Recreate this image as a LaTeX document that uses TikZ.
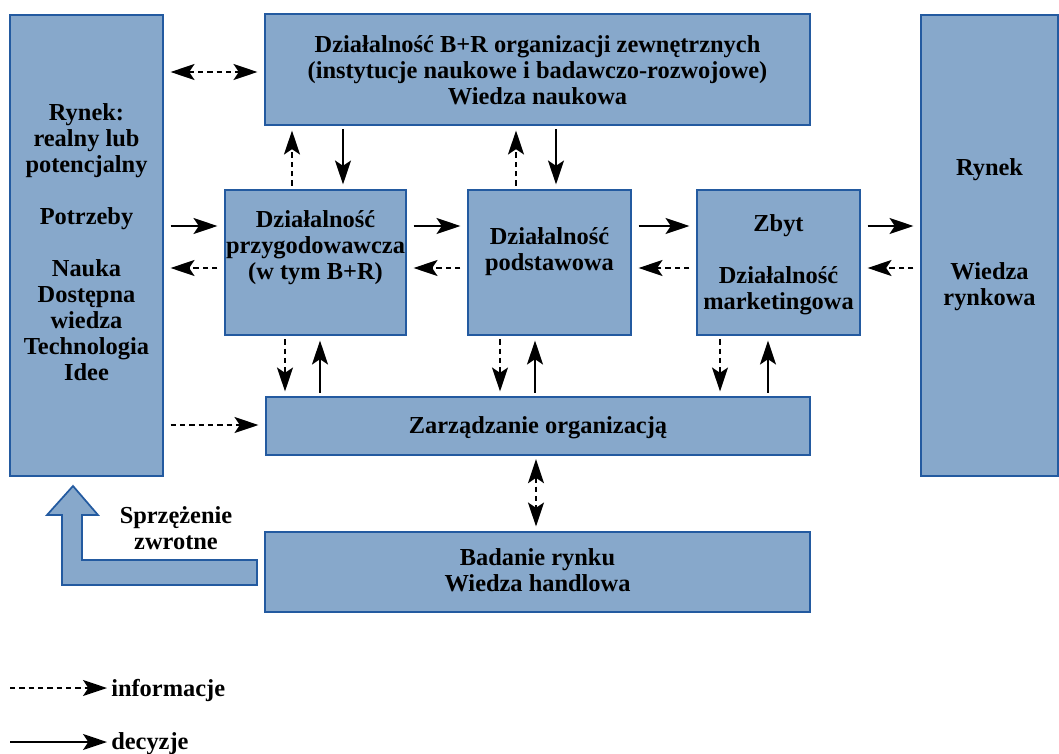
\documentclass[tikz,border=0pt]{standalone}
\usepackage{fontspec}
\setmainfont{Liberation Serif}
\usetikzlibrary{arrows.meta}
\definecolor{boxfill}{RGB}{135,168,203}
\definecolor{boxline}{RGB}{35,90,160}
\tikzset{
  box/.style={draw=boxline, fill=boxfill, line width=1.3pt, inner sep=0pt},
  txt/.style={font=\bfseries\fontsize{18.3}{19.5}\selectfont, align=center, inner sep=0pt},
  Tp/.tip={Stealth[length=18pt,width=12pt,inset=4pt]},
  dec/.style={line width=1.1pt, -Tp, shorten <=5pt, shorten >=5pt},
  decv/.style={line width=1.1pt, -Tp, shorten <=2.5pt, shorten >=3.5pt},
  inf/.style={dec, dash pattern=on 4pt off 3pt},
  infv/.style={decv, dash pattern=on 4pt off 3pt},
  both/.style={Tp-Tp},
}
\begin{document}
\begin{tikzpicture}[x=0.75pt,y=-0.75pt]
\useasboundingbox (0,0) rectangle (1059,753);
% boxes
\node[box, minimum width=114.75pt, minimum height=345.75pt] (L) at (86.5,245.5) {};
\node[box, minimum width=408.75pt, minimum height=83.25pt] (T) at (537.5,69.5) {};
\node[box, minimum width=102.75pt, minimum height=345.75pt] (R) at (989.5,245.5) {};
\node[box, minimum width=135.75pt, minimum height=108.75pt] (P) at (315.5,262.5) {};
\node[box, minimum width=122.25pt, minimum height=108.75pt] (D) at (549.5,262.5) {};
\node[box, minimum width=122.25pt, minimum height=108.75pt] (Z) at (778.5,262.5) {};
\node[box, minimum width=408pt, minimum height=43.5pt] (M) at (538,426) {};
\node[box, minimum width=408.75pt, minimum height=60pt] (B) at (537.5,572) {};
% texts
\node[txt] (Lt) at (86.5,242) {Rynek:\\realny lub\\potencjalny\\[19.5pt]Potrzeby\\[19.5pt]Nauka\\Dostępna\\wiedza\\Technologia\\Idee};
\node[txt] (Tt) at (537.5,70) {Działalność B+R organizacji zewnętrznych\\(instytucje naukowe i badawczo-rozwojowe)\\Wiedza naukowa};
\node[txt] (Rt) at (989.5,235) {Rynek\\[58.5pt]Wiedza\\rynkowa};
\node[txt] (Pt) at (315.5,248) {Działalność\\przygodowawcza\\(w tym B+R)};
\node[txt] (Dt) at (549.5,251.5) {Działalność\\podstawowa};
\node[txt] (Zt) at (778.5,265) {Zbyt\\[19.5pt]Działalność\\marketingowa};
\node[txt] (Mt) at (538,428) {Zarządzanie organizacją};
\node[txt] (Bt) at (537.5,570.5) {Badanie rynku\\Wiedza handlowa};
\node[txt] (Ft) at (176,528) {Sprzężenie\\zwrotne};
% level coordinates
\coordinate (yT) at (0,72);
\coordinate (yA) at (0,226);
\coordinate (yB) at (0,268);
\coordinate (yM) at (0,425);
\coordinate (x1) at (292,0);
\coordinate (x2) at (343,0);
\coordinate (x3) at (516,0);
\coordinate (x4) at (556,0);
\coordinate (x5) at (285,0);
\coordinate (x6) at (320,0);
\coordinate (x7) at (500,0);
\coordinate (x8) at (535,0);
\coordinate (x9) at (720,0);
\coordinate (x10) at (768,0);
\coordinate (x11) at (536,0);
% horizontal connectors
\draw[inf, both] (L.east |- yT) -- (T.west |- yT);
\draw[dec] (L.east |- yA) -- (P.west |- yA);
\draw[inf] (P.west |- yB) -- (L.east |- yB);
\draw[dec] (P.east |- yA) -- (D.west |- yA);
\draw[inf] (D.west |- yB) -- (P.east |- yB);
\draw[dec] (D.east |- yA) -- (Z.west |- yA);
\draw[inf] (Z.west |- yB) -- (D.east |- yB);
\draw[dec] (Z.east |- yA) -- (R.west |- yA);
\draw[inf] (R.west |- yB) -- (Z.east |- yB);
\draw[inf] (L.east |- yM) -- (M.west |- yM);
% vertical connectors
\draw[infv] (P.north -| x1) -- (T.south -| x1);
\draw[decv] (T.south -| x2) -- (P.north -| x2);
\draw[infv] (D.north -| x3) -- (T.south -| x3);
\draw[decv] (T.south -| x4) -- (D.north -| x4);
\draw[infv] (P.south -| x5) -- (M.north -| x5);
\draw[decv] (M.north -| x6) -- (P.south -| x6);
\draw[infv] (D.south -| x7) -- (M.north -| x7);
\draw[decv] (M.north -| x8) -- (D.south -| x8);
\draw[infv] (Z.south -| x9) -- (M.north -| x9);
\draw[decv] (M.north -| x10) -- (Z.south -| x10);
\draw[infv, both] (M.south -| x11) -- (B.north -| x11);
% feedback arrow
\draw[box] (73,486) -- (98,515) -- (82,515) -- (82,560) -- (257,560) -- (257,585) -- (62,585) -- (62,515) -- (47,515) -- cycle;
% legend
\coordinate (la) at (10,688);
\coordinate (lb) at (107,688);
\coordinate (lc) at (10,742);
\coordinate (ld) at (107,742);
\draw[line width=1.1pt, -Tp, dash pattern=on 4pt off 3pt] (la) -- (lb);
\draw[line width=1.1pt, -Tp] (lc) -- (ld);
\node[txt, anchor=west] (Li) at (111,690) {informacje};
\node[txt, anchor=west] (Ld) at (111,744) {decyzje};
\end{tikzpicture}
\end{document}
